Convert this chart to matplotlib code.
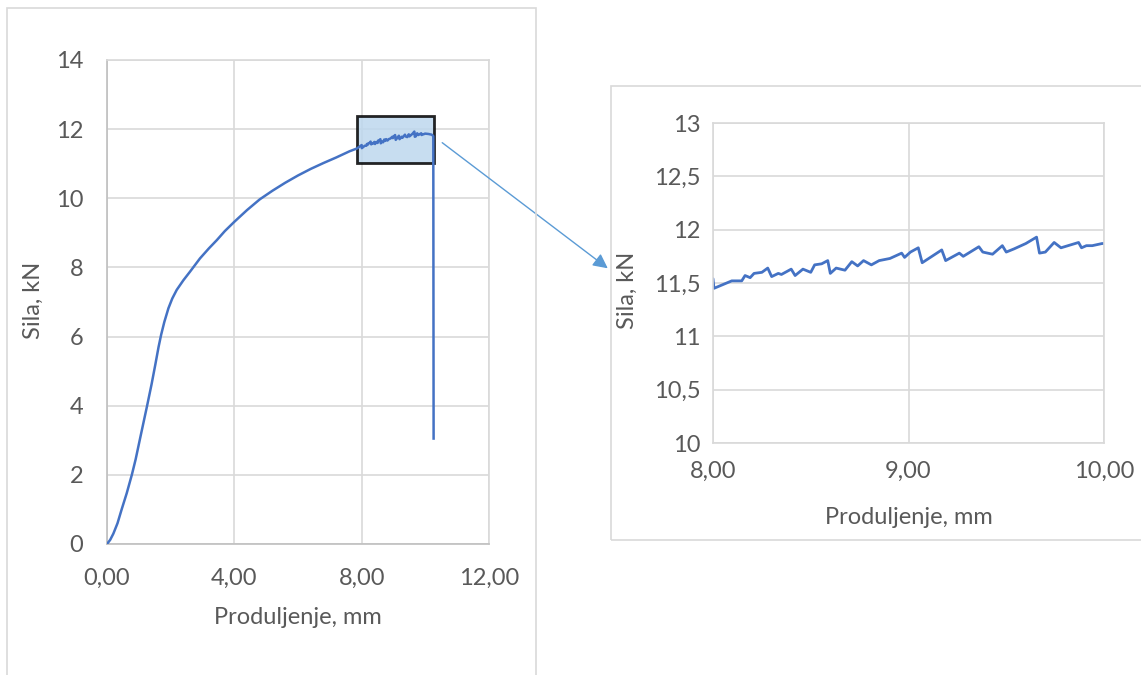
import matplotlib.pyplot as plt
from matplotlib.patches import Rectangle, FancyArrowPatch
from matplotlib.ticker import FuncFormatter

plt.rcParams['font.family'] = ['Lato', 'DejaVu Sans']

# --- data: force vs. elongation ---
# rising part of the curve (0 .. ~7.9 mm)
rise_x = [0, 0.1, 0.2, 0.33, 0.46, 0.62, 0.78, 0.9, 1.05, 1.26, 1.4, 1.52, 1.62, 1.70,
          1.80, 1.93, 2.05, 2.19, 2.4, 2.61, 2.92, 3.2, 3.45, 3.7, 4.0, 4.4, 4.8, 5.2,
          5.6, 6.0, 6.4, 6.8, 7.2, 7.62, 7.85]
rise_y = [0, 0.12, 0.3, 0.6, 1.0, 1.47, 2.0, 2.45, 3.1, 4.0, 4.62, 5.2, 5.7, 6.05,
          6.42, 6.82, 7.1, 7.35, 7.63, 7.88, 8.26, 8.55, 8.79, 9.05, 9.32, 9.66, 9.97, 10.22,
          10.45, 10.66, 10.85, 11.02, 11.18, 11.36, 11.44]

# serrated plateau (8 .. 10 mm)
zoom_x = [8.0, 8.005, 8.096, 8.147, 8.164, 8.19, 8.21, 8.25, 8.28, 8.30, 8.334, 8.35,
          8.40, 8.42, 8.46, 8.50, 8.52, 8.556, 8.587, 8.60, 8.63, 8.675, 8.71, 8.74,
          8.77, 8.81, 8.85, 8.905, 8.965, 8.98, 9.01, 9.05, 9.07, 9.12, 9.17, 9.19,
          9.26, 9.28, 9.36, 9.38, 9.43, 9.48, 9.50, 9.54, 9.60, 9.655, 9.67, 9.70,
          9.745, 9.78, 9.87, 9.885, 9.91, 9.94, 9.99, 10.0]
zoom_y = [11.54, 11.45, 11.52, 11.52, 11.57, 11.55, 11.59, 11.60, 11.64, 11.56, 11.59, 11.58,
          11.63, 11.57, 11.63, 11.60, 11.67, 11.68, 11.71, 11.59, 11.64, 11.62, 11.70, 11.66,
          11.71, 11.67, 11.71, 11.73, 11.78, 11.74, 11.79, 11.83, 11.69, 11.75, 11.81, 11.71,
          11.78, 11.75, 11.84, 11.79, 11.77, 11.85, 11.79, 11.82, 11.87, 11.93, 11.78, 11.79,
          11.88, 11.83, 11.88, 11.83, 11.85, 11.85, 11.87, 11.87]

# end of test and fracture drop
tail_x = [10.1, 10.2, 10.25, 10.26]
tail_y = [11.86, 11.84, 11.80, 3.05]

left_xticks = [0, 4, 8, 12]
left_yticks = [0, 2, 4, 6, 8, 10, 12, 14]
right_xticks = [8, 9, 10]
right_yticks = [10, 10.5, 11, 11.5, 12, 12.5, 13]

x_all = rise_x + zoom_x + tail_x
y_all = rise_y + zoom_y + tail_y

LINE = '#4472C4'
GRID = '#D9D9D9'
AXIS = '#BFBFBF'
TXT = '#595959'
FS = 17

W, H = 1141, 675
fig = plt.figure(figsize=(W / 100, H / 100), dpi=100)


def fx(px):
    return px / W


def fy(py):
    return 1 - py / H


# chart frames (Excel chart areas)
fig.patches.append(Rectangle((fx(7), fy(690)), fx(536) - fx(7), fy(8) - fy(690),
                             transform=fig.transFigure, fill=False, ec=GRID, lw=1.2))
fig.patches.append(Rectangle((fx(611), fy(540)), fx(1160) - fx(611), fy(86) - fy(540),
                             transform=fig.transFigure, fill=False, ec=GRID, lw=1.2))

comma2 = FuncFormatter(lambda v, p: f"{v:.2f}".replace('.', ','))
general = FuncFormatter(lambda v, p: (f"{v:g}").replace('.', ','))


def style(ax):
    ax.grid(True, color=GRID, lw=1.2)
    ax.set_axisbelow(True)
    for s in ['top', 'right']:
        ax.spines[s].set_color(GRID)
        ax.spines[s].set_linewidth(1.2)
    for s in ['left', 'bottom']:
        ax.spines[s].set_color(AXIS)
        ax.spines[s].set_linewidth(1.2)
    ax.tick_params(length=0, labelsize=FS, labelcolor=TXT)


# --- left: full curve ---
ax1 = fig.add_axes([fx(107), fy(544), fx(489) - fx(107), fy(60) - fy(544)])
ax1.set_xlim(0, 12)
ax1.set_ylim(0, 14)
ax1.set_xticks(left_xticks)
ax1.set_yticks(left_yticks)
ax1.xaxis.set_major_formatter(comma2)
ax1.yaxis.set_major_formatter(general)
style(ax1)
ax1.tick_params(axis='y', pad=17)
ax1.tick_params(axis='x', pad=17)
ax1.set_xlabel('Produljenje, mm', fontsize=FS, color=TXT)
ax1.set_ylabel('Sila, kN', fontsize=FS, color=TXT)
ax1.xaxis.set_label_coords(0.5, (544 - 618) / 484)
ax1.yaxis.set_label_coords((33 - 107) / 382, 0.504)
ax1.xaxis.label.set_va('center')
ax1.yaxis.label.set_va('center')

# highlighted zoom window, curve drawn on top of it
ax1.add_patch(Rectangle((7.85, 11.03), 10.27 - 7.85, 12.38 - 11.03,
                        fc='#BDD7EE', alpha=0.85, ec='black', lw=2, zorder=3))
ax1.plot(x_all, y_all, color=LINE, lw=1.8, zorder=4)

# --- right: zoomed plateau ---
ax2 = fig.add_axes([fx(713), fy(443), fx(1104) - fx(713), fy(123) - fy(443)])
ax2.plot(x_all, y_all, color=LINE, lw=2.0)
ax2.set_xlim(8, 10)
ax2.set_ylim(10, 13)
ax2.set_xticks(right_xticks)
ax2.set_yticks(right_yticks)
ax2.xaxis.set_major_formatter(comma2)
ax2.yaxis.set_major_formatter(general)
style(ax2)
for s in ax2.spines.values():
    s.set_color(GRID)
ax2.tick_params(axis='y', pad=9)
ax2.tick_params(axis='x', pad=13)
ax2.set_xlabel('Produljenje, mm', fontsize=FS, color=TXT)
ax2.set_ylabel('Sila, kN', fontsize=FS, color=TXT)
ax2.xaxis.set_label_coords(0.5, (443 - 518) / 320)
ax2.yaxis.set_label_coords((627 - 713) / 391, (443 - 290) / 320)
ax2.xaxis.label.set_va('center')
ax2.yaxis.label.set_va('center')

# connecting arrow
fig.add_artist(FancyArrowPatch((fx(440), fy(141)), (fx(610), fy(270)),
                               transform=fig.transFigure, arrowstyle='-|>',
                               mutation_scale=22, color='#5B9BD5', lw=1))

fig.savefig('out.png', dpi=100)
